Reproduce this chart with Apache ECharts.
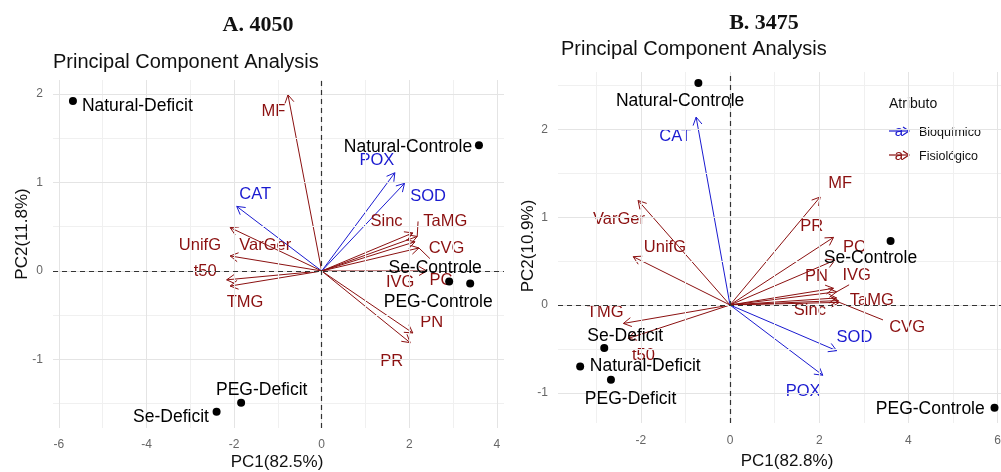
<!DOCTYPE html>
<html><head><meta charset="utf-8">
<script src="https://cdn.jsdelivr.net/npm/echarts@6/dist/echarts.min.js"></script>
<style>html,body{margin:0;padding:0;background:#fff}#c{width:1001px;height:472px}</style>
</head><body><div id="c"></div>
<script>
// ---------- data ----------
const varNames  = ['MF','POX','SOD','CAT','Sinc','TaMG','CVG','PC','IVG','PN','PR','UnifG','VarGer','t50','TMG'];
const varGroups = ['Fisiológico','Bioquímico','Bioquímico','Bioquímico','Fisiológico','Fisiológico','Fisiológico','Fisiológico','Fisiológico','Fisiológico','Fisiológico','Fisiológico','Fisiológico','Fisiológico','Fisiológico'];
const sampleNames = ['Natural-Deficit','Natural-Controle','Se-Controle','PEG-Controle','PEG-Deficit','Se-Deficit'];

// Panel A (4050)
const vecAX = [-0.77, 1.67, 1.89, -1.94, 2.08, 2.18, 2.13, 2.22, 2.40, 2.08, 2.02, -2.09, -2.09, -2.17, -2.09];
const vecAY = [ 1.99, 1.11, 0.99,  0.73, 0.43, 0.39, 0.33, 0.26, 0.00, -0.70, -0.81, 0.17, 0.49, -0.10, -0.17];
const labAX = [-1.10, 1.26, 2.43, -1.52, 1.48, 2.82, 2.85, 2.72, 1.79, 2.51, 1.60, -2.78, -1.29, -2.66, -1.75];
const labAY = [ 1.80, 1.25, 0.84,  0.87, 0.56, 0.56, 0.26, -0.11, -0.13, -0.58, -1.02, 0.29, 0.29, 0.00, -0.35];
const ptAX = [-5.68, 3.59, 2.91, 3.39, -1.84, -2.40];
const ptAY = [ 1.92, 1.42, -0.12, -0.14, -1.49, -1.59];
const ptLabAX = [-4.21, 1.97, 2.59, 2.66, -1.37, -3.44];
const ptLabAY = [ 1.86, 1.40, 0.03, -0.35, -1.35, -1.65];
const segAVars = ['TaMG','PC'];
const segAEndX = [2.20, 2.47];
const segAEndY = [0.56, 0.14];

// Panel B (3475)
const vecBX = [2.02, 2.08, 2.39, -0.76, 2.43, 2.39, 2.45, 2.35, 2.39, 2.32, 2.32, -2.17, -2.06, -2.28, -2.39];
const vecBY = [1.23, -0.80, -0.52, 2.14, 0.05, 0.08, 0.03, 0.51, 0.15, 0.19, 0.77, 0.55, 1.19, -0.38, -0.21];
const labBX = [2.47, 1.64, 2.79, -1.23, 1.79, 3.18, 3.97, 2.79, 2.84, 1.94, 1.83, -1.46, -2.49, -1.94, -2.80];
const labBY = [1.39, -0.99, -0.37, 1.92, -0.06, 0.05, -0.26, 0.66, 0.34, 0.32, 0.90, 0.66, 0.98, -0.57, -0.08];
const ptBX = [-3.36, -0.71, 3.60, 5.93, -2.67, -2.82];
const ptBY = [-0.70, 2.53, 0.73, -1.17, -0.85, -0.49];
const ptLabBX = [-1.90, -1.12, 3.15, 4.49, -2.23, -2.35];
const ptLabBY = [-0.70, 2.32, 0.53, -1.19, -1.07, -0.36];
const segBVars = ['IVG','CVG'];
const segBEndX = [2.67, 3.43];
const segBEndY = [0.23, -0.17];

// axes / ticks
const xTicksA = [-6,-4,-2,0,2,4];  const xMinorA = [-5,-3,-1,1,3];
const yTicksA = [-1,0,1,2];        const yMinorA = [-1.5,-0.5,0.5,1.5];
const xTicksB = [-2,0,2,4,6];      const xMinorB = [-3,-1,1,3,5];
const yTicksB = [-1,0,1,2];        const yMinorB = [-0.5,0.5,1.5,2.5];

// ---------- style ----------
const SANS = 'Liberation Sans, Arial, sans-serif';
const groupColor = {'Bioquímico':'#1a1ad0','Fisiológico':'#8B1010'};

const chart = echarts.init(document.getElementById('c'), null, {renderer:'canvas'});

function axisPair(idx, xMin, xMax, yMin, yMax, xT, yT, xMargin) {
  const tickStyle = {color:'#666', width:1};
  return {
    x: {gridIndex:idx, type:'value', min:xMin, max:xMax,
        axisLine:{show:false}, splitLine:{show:false},
        axisTick:{show:true, customValues:xT, length:4, lineStyle:tickStyle},
        axisLabel:{customValues:xT, color:'#666', fontSize:12, fontFamily:SANS, margin:xMargin}},
    y: {gridIndex:idx, type:'value', min:yMin, max:yMax,
        axisLine:{show:false}, splitLine:{show:false},
        axisTick:{show:true, customValues:yT, length:4, lineStyle:tickStyle},
        axisLabel:{customValues:yT, color:'#666', fontSize:12, fontFamily:SANS, margin:10}}
  };
}

const aA = axisPair(0, -6.135, 4.162, -1.774, 2.158, xTicksA, yTicksA, 11);
const aB = axisPair(1, -3.857, 6.30, -1.344, 2.654, xTicksB, yTicksB, 12);

function gridSeries(idx, xMaj, xMin, yMaj, yMin) {
  const maj = {color:'#e4e4e4', width:1, type:'solid'};
  const mnr = {color:'#f0f0f0', width:1, type:'solid'};
  const zero = {color:'#333', width:1.2, type:[5,4]};
  const d = [];
  xMin.forEach(v=>d.push({xAxis:v, lineStyle:mnr}));
  yMin.forEach(v=>d.push({yAxis:v, lineStyle:mnr}));
  xMaj.forEach(v=>d.push({xAxis:v, lineStyle:maj}));
  yMaj.forEach(v=>d.push({yAxis:v, lineStyle:maj}));
  d.push({xAxis:0, lineStyle:zero});
  d.push({yAxis:0, lineStyle:zero});
  return {type:'scatter', xAxisIndex:idx, yAxisIndex:idx, data:[[0,0]], symbolSize:0, silent:true, z:1,
    markLine:{silent:true, symbol:['none','none'], label:{show:false}, animation:false, data:d}};
}

function arrowSeries(idx, vx, vy) {
  return {type:'custom', xAxisIndex:idx, yAxisIndex:idx, z:3, silent:true, animation:false,
    data: vx.map((x,i)=>[x, vy[i], i]),
    renderItem:(params, api)=>{
      const o = api.coord([0,0]);
      const t = api.coord([api.value(0), api.value(1)]);
      const ang = Math.atan2(t[1]-o[1], t[0]-o[0]);
      const L = 9, a = Math.PI/6;
      const p1 = [t[0]-L*Math.cos(ang-a), t[1]-L*Math.sin(ang-a)];
      const p2 = [t[0]-L*Math.cos(ang+a), t[1]-L*Math.sin(ang+a)];
      const c = groupColor[varGroups[api.value(2)]];
      return {type:'group', children:[
        {type:'line', shape:{x1:o[0],y1:o[1],x2:t[0],y2:t[1]}, style:{stroke:c, lineWidth:1}},
        {type:'polyline', shape:{points:[p1,t,p2]}, style:{stroke:c, fill:null, lineWidth:1}}
      ]};
    }};
}

function segSeries(idx, vx, vy, names, ex, ey) {
  return {type:'custom', xAxisIndex:idx, yAxisIndex:idx, z:3, silent:true, animation:false,
    data: names.map((n,i)=>{const k = varNames.indexOf(n); return [vx[k], vy[k], ex[i], ey[i], k];}),
    renderItem:(params, api)=>{
      const s = api.coord([api.value(0), api.value(1)]);
      const e = api.coord([api.value(2), api.value(3)]);
      const c = groupColor[varGroups[api.value(4)]];
      return {type:'line', shape:{x1:s[0],y1:s[1],x2:e[0],y2:e[1]}, style:{stroke:c, lineWidth:1}};
    }};
}

function textSeries(idx, lx, ly, names, colorFn, size, z) {
  return {type:'custom', xAxisIndex:idx, yAxisIndex:idx, z:z, silent:true, animation:false,
    data: lx.map((x,i)=>[x, ly[i], i]),
    renderItem:(params, api)=>{
      const p = api.coord([api.value(0), api.value(1)]);
      const i = api.value(2);
      return {type:'text', x:p[0], y:p[1], style:{text:names[i], fill:colorFn(i),
        fontSize:size, fontFamily:SANS, align:'center', verticalAlign:'middle'}};
    }};
}

function pointSeries(idx, px, py) {
  return {type:'scatter', xAxisIndex:idx, yAxisIndex:idx, z:6, silent:true, animation:false,
    symbolSize:8, itemStyle:{color:'#000', opacity:1},
    data: px.map((x,i)=>[x, py[i]])};
}

const varColor = i => groupColor[varGroups[i]];
const black = () => '#000';

function legendGraphic() {
  const items = ['Bioquímico','Fisiológico'];
  const g = [{type:'text', x:889, y:104, style:{text:'Atributo', fontSize:14, fontFamily:SANS, fill:'#111', align:'left', verticalAlign:'middle'}}];
  items.forEach((name,i)=>{
    const y = 132 + 24*i;
    const c = groupColor[name];
    g.push({type:'line', shape:{x1:889,y1:y-1,x2:909,y2:y-1}, style:{stroke:c, lineWidth:1.2}});
    g.push({type:'polyline', shape:{points:[[903,y-5],[909,y-1],[903,y+3]]}, style:{stroke:c, fill:null, lineWidth:1.2}});
    g.push({type:'text', x:899, y:y, style:{text:'a', fontSize:15, fontFamily:SANS, fill:c, align:'center', verticalAlign:'middle'}});
    g.push({type:'text', x:919, y:y+1, style:{text:name, fontSize:12.5, fontFamily:SANS, fill:'#111', align:'left', verticalAlign:'middle'}});
  });
  return g;
}

function axisTitle(x, y, text, rot) {
  return {type:'text', x:x, y:y, rotation:rot, style:{text:text, fontSize:17, fontFamily:SANS, fill:'#111', align:'center', verticalAlign:'middle'}};
}

const option = {
  backgroundColor:'#fff',
  animation:false,
  grid:[
    {left:53, top:80, width:451, height:348, outerBoundsMode:'none', containLabel:false},
    {left:558, top:72, width:453, height:351, outerBoundsMode:'none', containLabel:false}
  ],
  xAxis:[aA.x, aB.x],
  yAxis:[aA.y, aB.y],
  graphic:[
    {type:'text', x:258, y:25, style:{text:'A. 4050', font:'bold 22px "Liberation Serif", "Times New Roman", serif', fill:'#111', align:'center', verticalAlign:'middle'}},
    {type:'text', x:764, y:23, style:{text:'B. 3475', font:'bold 22px "Liberation Serif", "Times New Roman", serif', fill:'#111', align:'center', verticalAlign:'middle'}},
    {type:'text', x:53, y:62, style:{text:'Principal Component Analysis', fontSize:20, fontFamily:SANS, fill:'#111', align:'left', verticalAlign:'middle'}},
    {type:'text', x:561, y:49, style:{text:'Principal Component Analysis', fontSize:20, fontFamily:SANS, fill:'#111', align:'left', verticalAlign:'middle'}},
    axisTitle(22, 234, 'PC2(11.8%)', Math.PI/2),
    axisTitle(528, 246, 'PC2(10.9%)', Math.PI/2),
    axisTitle(277, 462, 'PC1(82.5%)', 0),
    axisTitle(787, 461, 'PC1(82.8%)', 0),
    ...legendGraphic()
  ],
  series:[
    gridSeries(0, xTicksA, xMinorA, yTicksA, yMinorA),
    gridSeries(1, xTicksB, xMinorB, yTicksB, yMinorB),
    arrowSeries(0, vecAX, vecAY),
    arrowSeries(1, vecBX, vecBY),
    segSeries(0, vecAX, vecAY, segAVars, segAEndX, segAEndY),
    segSeries(1, vecBX, vecBY, segBVars, segBEndX, segBEndY),
    textSeries(0, labAX, labAY, varNames, varColor, 16.5, 4),
    textSeries(1, labBX, labBY, varNames, varColor, 16.5, 4),
    pointSeries(0, ptAX, ptAY),
    pointSeries(1, ptBX, ptBY),
    textSeries(0, ptLabAX, ptLabAY, sampleNames, black, 17.5, 5),
    textSeries(1, ptLabBX, ptLabBY, sampleNames, black, 17.5, 5)
  ]
};
chart.setOption(option);
</script>
</body></html>
